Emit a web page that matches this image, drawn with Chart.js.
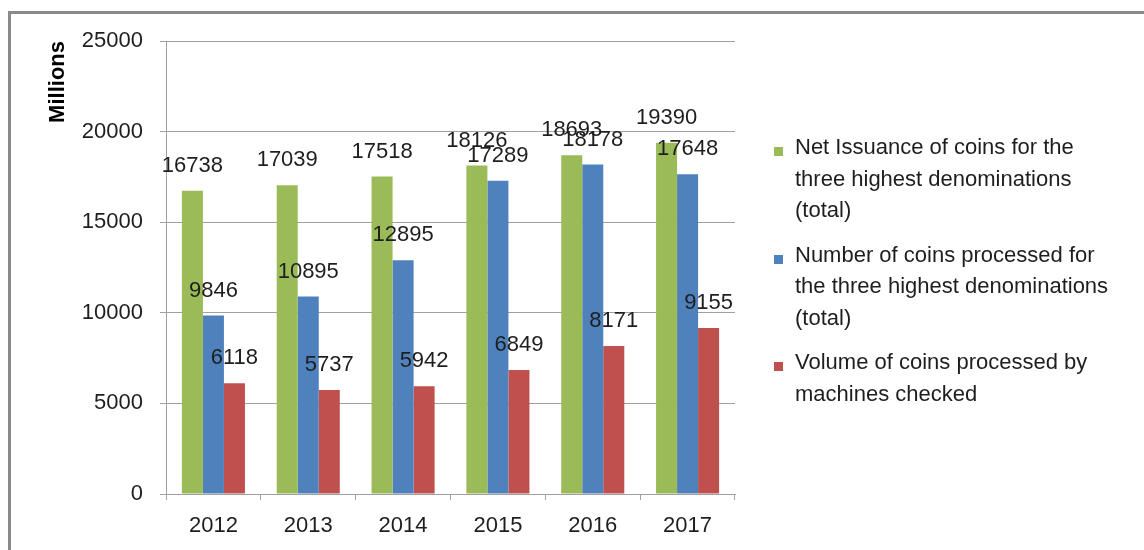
<!DOCTYPE html>
<html lang="en">
<head>
    <meta charset="UTF-8">
    <title>Coins issued and processed</title>
    <script src="https://cdn.jsdelivr.net/npm/chart.js"></script>
    <style>
        body {
            margin: 0;
            padding: 0;
            background: #ffffff;
            font-family: "Liberation Sans", Arial, sans-serif;
            overflow: hidden;
        }

        /* grey frame that runs off the right and bottom edges */
        .frame {
            position: absolute;
            left: 8px;
            top: 11px;
            width: 1200px;
            height: 600px;
            border-top: 3px solid #8a8a8a;
            border-left: 3px solid #8a8a8a;
        }

        .chart-box {
            position: absolute;
            left: 0;
            top: 0;
            width: 1144px;
            height: 550px;
        }

        /* legend */
        .legend {
            position: absolute;
            left: 774px;
            top: 131px;
            font-size: 22px;
            line-height: 31.5px;
            color: #1e1e1e;
        }

        .legend-item {
            position: relative;
            padding-left: 21px;
            margin-bottom: 13px;
            white-space: pre-line;
        }

        .legend-item .swatch {
            position: absolute;
            left: 0;
            top: 16px;
            width: 9px;
            height: 9px;
        }
    </style>
</head>
<body>

    <div class="frame"></div>
    <div class="chart-box">
        <canvas id="coinChart" width="1144" height="550"></canvas>
    </div>
    <div class="legend" id="legend"></div>

    <script>
        // Data
        const years = ['2012', '2013', '2014', '2015', '2016', '2017'];
        const netIssuance = [16738, 17039, 17518, 18126, 18693, 19390];
        const coinsProcessed = [9846, 10895, 12895, 17289, 18178, 17648];
        const machinesChecked = [6118, 5737, 5942, 6849, 8171, 9155];
        const seriesLabels = [
            'Net Issuance of coins for the\nthree highest denominations\n(total)',
            'Number of coins processed for\nthe three highest denominations\n(total)',
            'Volume of coins processed by\nmachines checked'
        ];
        const seriesColors = ['#9bbb59', '#4f81bd', '#c0504d'];
        const yTicks = [0, 5000, 10000, 15000, 20000, 25000];

        const gridGrey = '#a0a0a0';
        const textColor = '#1e1e1e';
        const baseFont = '"Liberation Sans", Arial, sans-serif';

        // value labels above each bar
        const valueLabels = {
            id: 'valueLabels',
            afterDatasetsDraw(chart) {
                const ctx = chart.ctx;
                ctx.save();
                ctx.font = '22px ' + baseFont;
                ctx.fillStyle = textColor;
                ctx.textAlign = 'center';
                ctx.textBaseline = 'middle';
                chart.data.datasets.forEach((ds, i) => {
                    chart.getDatasetMeta(i).data.forEach((bar, j) => {
                        ctx.fillText(String(ds.data[j]), bar.x, bar.y - 25);
                    });
                });
                ctx.restore();
            }
        };

        const seriesData = [netIssuance, coinsProcessed, machinesChecked];

        const ctx = document.getElementById('coinChart').getContext('2d');
        const coinChart = new Chart(ctx, {
            type: 'bar',
            data: {
                labels: years,
                datasets: seriesData.map((values, i) => ({
                    label: seriesLabels[i],
                    data: values,
                    backgroundColor: seriesColors[i],
                    borderWidth: 0,
                    barPercentage: 1.0,
                    categoryPercentage: 0.665
                }))
            },
            options: {
                responsive: false,
                animation: false,
                devicePixelRatio: 1,
                layout: {
                    padding: { left: 0, top: 41, right: 409, bottom: 0 }
                },
                plugins: {
                    legend: { display: false },
                    tooltip: { enabled: false }
                },
                scales: {
                    x: {
                        afterFit: (scale) => { scale.height = 56; },
                        grid: {
                            display: true,
                            drawOnChartArea: false,
                            drawTicks: true,
                            tickLength: 6,
                            color: gridGrey,
                            offset: true
                        },
                        border: { display: true, color: gridGrey, width: 1 },
                        ticks: {
                            color: textColor,
                            padding: 13,
                            font: { size: 22, family: baseFont }
                        }
                    },
                    y: {
                        min: 0,
                        max: 25000,
                        afterFit: (scale) => { scale.width = 166; },
                        afterBuildTicks: (scale) => {
                            scale.ticks = yTicks.map(v => ({ value: v }));
                        },
                        grid: {
                            color: gridGrey,
                            tickLength: 6,
                            drawTicks: true
                        },
                        border: { display: true, color: gridGrey, width: 1 },
                        ticks: {
                            color: textColor,
                            padding: 17,
                            font: { size: 22, family: baseFont },
                            callback: (value) => String(value)
                        },
                        title: {
                            display: true,
                            text: 'Millions',
                            align: 'end',
                            color: '#000000',
                            padding: { top: 45, bottom: 0 },
                            font: { size: 22, weight: 'bold', family: baseFont, lineHeight: 1.2 }
                        }
                    }
                }
            },
            plugins: [valueLabels]
        });

        // legend built from the dataset labels and colours
        const legendEl = document.getElementById('legend');
        coinChart.data.datasets.forEach((ds) => {
            const item = document.createElement('div');
            item.className = 'legend-item';
            const sw = document.createElement('span');
            sw.className = 'swatch';
            sw.style.background = ds.backgroundColor;
            item.appendChild(sw);
            item.appendChild(document.createTextNode(ds.label));
            legendEl.appendChild(item);
        });
    </script>
</body>
</html>
